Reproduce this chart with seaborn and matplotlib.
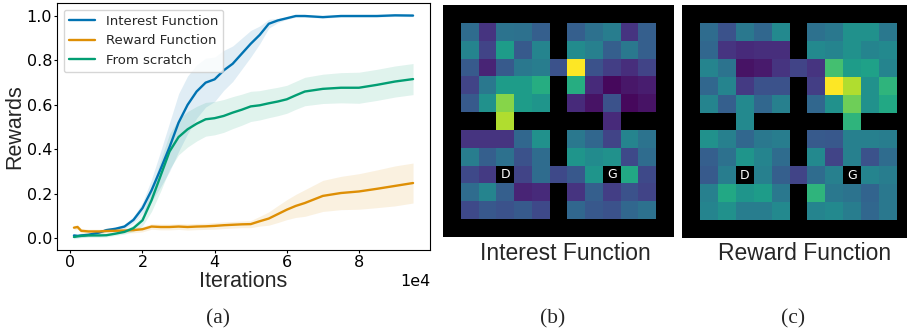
import numpy as np
import pandas as pd
import matplotlib
matplotlib.use("Agg")
import matplotlib.pyplot as plt
import seaborn as sns

# ---- data: learning curves (iterations in units of 1e4) ----
iters = [0.1, 0.2, 0.3, 0.5, 0.8, 1.0, 1.25, 1.5, 1.75, 2.0, 2.25, 2.5, 2.75, 3.0,
         3.25, 3.5, 3.75, 4.0, 4.25, 4.5, 4.75, 5.0, 5.25, 5.5, 5.75, 6.0, 6.25,
         6.5, 7.0, 7.5, 8.0, 8.5, 9.0, 9.5]

interest_mean = [0.012, 0.010, 0.012, 0.015, 0.025, 0.036, 0.042, 0.052, 0.082, 0.135,
                 0.215, 0.31, 0.41, 0.52, 0.60, 0.66, 0.70, 0.715, 0.755, 0.785, 0.83,
                 0.875, 0.915, 0.965, 0.98, 0.99, 1.0, 1.0, 0.995, 1.0, 1.0, 1.0, 1.003, 1.002]
interest_sd = [0.008, 0.008, 0.008, 0.008, 0.008, 0.008, 0.008, 0.01, 0.015, 0.025,
               0.05, 0.08, 0.11, 0.13, 0.13, 0.12, 0.11, 0.10, 0.09, 0.08, 0.07,
               0.06, 0.04, 0.02, 0.01, 0.005, 0.005, 0.005, 0.005, 0.005, 0.005,
               0.005, 0.005, 0.005]

reward_mean = [0.047, 0.05, 0.033, 0.03, 0.03, 0.032, 0.033, 0.034, 0.036, 0.04,
               0.052, 0.05, 0.05, 0.052, 0.05, 0.052, 0.053, 0.055, 0.058, 0.06, 0.062,
               0.063, 0.076, 0.088, 0.108, 0.128, 0.145, 0.158, 0.19, 0.203, 0.21,
               0.222, 0.235, 0.248]
reward_sd = [0.01, 0.01, 0.01, 0.01, 0.01, 0.01, 0.01, 0.01, 0.012, 0.012, 0.012,
             0.013, 0.013, 0.013, 0.014, 0.014, 0.014, 0.015, 0.015, 0.015, 0.015,
             0.016, 0.022, 0.03, 0.038, 0.045, 0.052, 0.06, 0.07, 0.075, 0.08,
             0.085, 0.09, 0.09]

scratch_mean = [0.005, 0.008, 0.010, 0.012, 0.012, 0.013, 0.02, 0.028, 0.045, 0.08,
                0.17, 0.28, 0.39, 0.455, 0.49, 0.515, 0.535, 0.54, 0.55, 0.565, 0.578,
                0.593, 0.598, 0.607, 0.615, 0.625, 0.643, 0.66, 0.672, 0.677, 0.677,
                0.69, 0.705, 0.716]
scratch_sd = [0.008, 0.008, 0.008, 0.008, 0.008, 0.008, 0.008, 0.01, 0.015, 0.025,
              0.05, 0.07, 0.08, 0.08, 0.08, 0.078, 0.076, 0.075, 0.074, 0.072, 0.07,
              0.068, 0.066, 0.065, 0.064, 0.063, 0.063, 0.064, 0.066, 0.068, 0.07,
              0.07, 0.07, 0.07]

series_names = ["Interest Function", "Reward Function", "From scratch"]

# ---- data: four-rooms value maps (None = wall) ----
W = None
interest_grid = [
    [W] * 13,
    [W, .35, .15, .38, .37, .30, W, .30, .37, .42, .15, .30, W],
    [W, .45, .20, .55, .28, .45, W, .48, .43, .30, .40, .30, W],
    [W, .28, .10, .28, .40, .42, .25, 1.0, .25, .18, .13, .20, W],
    [W, .20, .40, .55, .55, .62, W, .62, .12, .02, .06, .08, W],
    [W, .28, .50, .82, .55, .52, W, .12, .05, .25, .02, .05, W],
    [W, W, W, .88, W, W, W, W, W, .12, W, W, W],
    [W, .15, .15, .15, .33, .50, W, .40, .33, .20, .45, .38, W],
    [W, .42, .30, .37, .25, .35, W, .52, .48, .50, .22, .35, W],
    [W, .22, .17, W, .20, .35, .22, .27, .52, W, .60, .22, W],
    [W, .35, .45, .30, .10, .12, W, .15, .30, .18, .25, .20, W],
    [W, .22, .27, .25, .28, .22, W, .33, .27, .25, .33, .37, W],
    [W] * 13,
]
reward_grid = [
    [W] * 13,
    [W, .35, .25, .40, .33, .47, W, .37, .40, .50, .50, .40, W],
    [W, .33, .15, .12, .13, .13, W, .47, .45, .50, .45, .47, W],
    [W, .45, .38, .05, .07, .15, .20, .15, .70, .55, .57, .45, W],
    [W, .33, .45, .17, .25, .25, W, .18, 1.0, .88, .50, .65, W],
    [W, .45, .30, .47, .33, .43, W, .33, .50, .78, .50, .60, W],
    [W, W, W, .47, W, W, W, W, W, .65, W, W, W],
    [W, .50, .43, .33, .40, .42, W, .28, .27, .43, .43, .42, W],
    [W, .30, .37, .52, .45, .35, W, .47, .20, .43, .25, .35, W],
    [W, .28, .42, W, .43, .30, .20, .35, .43, W, .45, .42, W],
    [W, .43, .60, .52, .55, .40, W, .65, .40, .38, .32, .40, W],
    [W, .45, .50, .42, .42, .47, W, .45, .47, .42, .33, .40, W],
    [W] * 13,
]
markers = {"D": (9, 3), "G": (9, 9)}   # (row, col)

# ---- style ----
sns.set_style("ticks")
plt.rcParams['font.family'] = ['DejaVu Sans']
colors = sns.color_palette("colorblind")[:3]

fig = plt.figure(figsize=(9.07, 3.33), dpi=100)

# ---- (a) learning curves ----
ax = fig.add_axes([57 / 907, 83 / 333, 373 / 907, 247 / 333])
x = np.array(iters) * 1e4
rows = []
for name, m in zip(series_names, [interest_mean, reward_mean, scratch_mean]):
    for xi, mi in zip(x, m):
        rows.append({"it": xi, "reward": mi, "method": name})
df = pd.DataFrame(rows)
sns.lineplot(data=df, x="it", y="reward", hue="method", palette=colors,
             linewidth=1.7, ax=ax)
for c, m, s in zip(colors, [interest_mean, reward_mean, scratch_mean],
                   [interest_sd, reward_sd, scratch_sd]):
    m = np.array(m); s = np.array(s)
    ax.fill_between(x, m - s, m + s, color=c, alpha=0.12, linewidth=0)

ax.ticklabel_format(axis='x', style='sci', scilimits=(0, 0))
ax.set_xticks([0, 20000, 40000, 60000, 80000])
ax.set_yticks([0.0, 0.2, 0.4, 0.6, 0.8, 1.0])
ax.tick_params(labelsize=11.5, colors='black', length=2.4, pad=1.2)
ax.xaxis.get_offset_text().set_fontsize(11.5)
ax.set_xlabel("Iterations", fontsize=15.5, family="Liberation Sans")
ax.set_ylabel("Rewards", fontsize=15.5, family="Liberation Sans")
ax.yaxis.set_label_coords(-0.086, 0.5)
ax.xaxis.set_label_coords(0.5, -0.085)
for sp in ax.spines.values():
    sp.set_color('black')
leg = ax.legend(loc="upper left", fontsize=9.5, frameon=True)
leg.set_title(None)

# ---- (b), (c) heatmaps ----
def draw_grid(axh, grid):
    arr = np.array([[np.nan if v is None else v for v in r] for r in grid], dtype=float)
    sns.heatmap(arr, mask=np.isnan(arr), cmap="viridis", vmin=0, vmax=1, cbar=False,
                xticklabels=False, yticklabels=False, ax=axh)
    axh.set_facecolor("black")
    for sp in axh.spines.values():
        sp.set_visible(False)
    for lab, (r, cc) in markers.items():
        axh.text(cc + 0.5, r + 0.5, lab, color="white", ha="center", va="center",
                 fontsize=9)

axb = fig.add_axes([443 / 907, 96 / 333, 231 / 907, 232 / 333])
draw_grid(axb, interest_grid)
axc = fig.add_axes([682 / 907, 95 / 333, 233 / 907, 233 / 333])
draw_grid(axc, reward_grid)

fig.text(565 / 907, 1 - 253 / 333, "Interest Function", ha="center", va="center",
         fontsize=16.5, family="Liberation Sans")
fig.text(805 / 907, 1 - 253 / 333, "Reward Function", ha="center", va="center",
         fontsize=16.5, family="Liberation Sans")

for lab, xc in [("(a)", 218), ("(b)", 553), ("(c)", 793)]:
    fig.text(xc / 907, 1 - 319 / 333, lab, ha="center", va="center",
             fontsize=15.5, family="Liberation Serif")

fig.savefig("out.png", dpi=100)
